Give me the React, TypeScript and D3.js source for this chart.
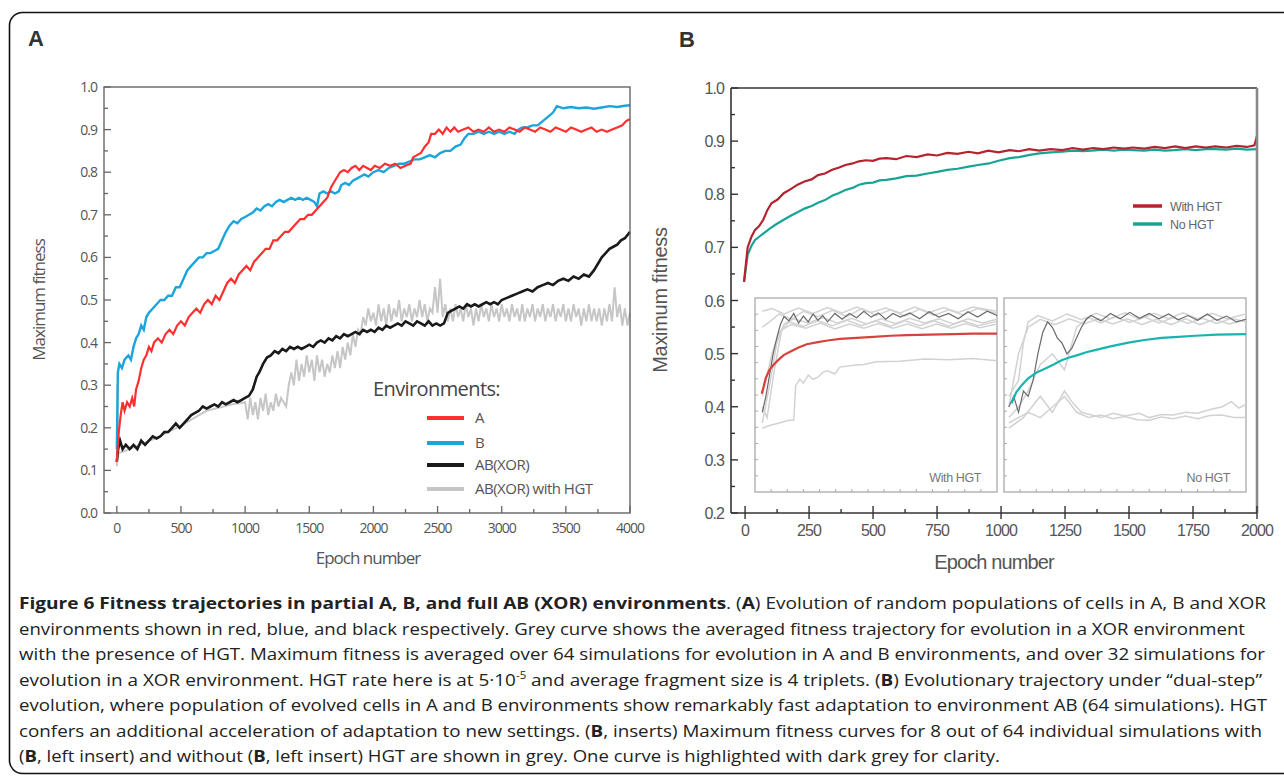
import React from "react"
import * as d3 from "d3"

type P = [number, number]

// ---------- panel A data (epoch, maximum fitness) ----------
const envRed: P[] = [
  [0, 0.12], [15, 0.19], [30, 0.23], [45, 0.26], [60, 0.24], [80, 0.26], [100, 0.25], [120, 0.27], [135, 0.25],
  [150, 0.29], [170, 0.31], [190, 0.34], [210, 0.36], [230, 0.37], [250, 0.39], [270, 0.38], [290, 0.4],
  [320, 0.41], [350, 0.4], [380, 0.42], [410, 0.43], [440, 0.42], [470, 0.44], [500, 0.45], [530, 0.44],
  [560, 0.46], [590, 0.47], [620, 0.48], [650, 0.47], [680, 0.49], [710, 0.5], [740, 0.49], [770, 0.51],
  [800, 0.5], [830, 0.52], [860, 0.54], [890, 0.55], [920, 0.54], [950, 0.56], [980, 0.57], [1010, 0.58],
  [1040, 0.57], [1070, 0.59], [1100, 0.6], [1130, 0.61], [1160, 0.62], [1190, 0.62], [1220, 0.64],
  [1250, 0.64], [1280, 0.65], [1310, 0.66], [1340, 0.66], [1370, 0.67], [1400, 0.68], [1430, 0.69],
  [1460, 0.69], [1490, 0.7], [1520, 0.7], [1550, 0.71], [1580, 0.72], [1610, 0.73], [1640, 0.74],
  [1670, 0.765], [1700, 0.78], [1740, 0.8], [1770, 0.805], [1800, 0.8], [1830, 0.81], [1860, 0.815],
  [1890, 0.805], [1920, 0.815], [1950, 0.81], [1980, 0.805], [2010, 0.815], [2050, 0.81], [2090, 0.82],
  [2130, 0.815], [2170, 0.82], [2210, 0.81], [2250, 0.815], [2290, 0.82], [2310, 0.835], [2340, 0.84],
  [2370, 0.845], [2400, 0.86], [2430, 0.87], [2450, 0.89], [2480, 0.89], [2510, 0.9], [2540, 0.89],
  [2570, 0.905], [2600, 0.895], [2630, 0.905], [2660, 0.895], [2700, 0.9], [2740, 0.905], [2780, 0.895],
  [2820, 0.9], [2860, 0.895], [2900, 0.905], [2940, 0.895], [2980, 0.9], [3020, 0.895], [3060, 0.905],
  [3100, 0.9], [3140, 0.895], [3180, 0.905], [3220, 0.9], [3260, 0.895], [3300, 0.905], [3340, 0.9],
  [3380, 0.895], [3420, 0.905], [3460, 0.9], [3500, 0.895], [3540, 0.905], [3580, 0.9], [3620, 0.895],
  [3660, 0.9], [3700, 0.905], [3740, 0.895], [3780, 0.9], [3820, 0.895], [3860, 0.9], [3900, 0.905],
  [3940, 0.91], [3970, 0.92], [4000, 0.925],
]

const envBlue: P[] = [
  [0, 0.15], [8, 0.33], [20, 0.35], [40, 0.34], [60, 0.36], [90, 0.37], [110, 0.36], [130, 0.39], [150, 0.41],
  [170, 0.42], [190, 0.44], [210, 0.43], [230, 0.46], [250, 0.47], [280, 0.48], [310, 0.49], [340, 0.5],
  [370, 0.5], [400, 0.51], [430, 0.51], [460, 0.53], [490, 0.53], [520, 0.55], [550, 0.57], [580, 0.58],
  [610, 0.59], [640, 0.6], [670, 0.6], [700, 0.61], [730, 0.61], [760, 0.615], [790, 0.62], [820, 0.64],
  [850, 0.66], [880, 0.675], [910, 0.685], [940, 0.68], [970, 0.69], [1000, 0.695], [1030, 0.7],
  [1060, 0.705], [1090, 0.715], [1120, 0.71], [1150, 0.72], [1180, 0.725], [1210, 0.72], [1240, 0.73],
  [1270, 0.735], [1300, 0.73], [1330, 0.735], [1360, 0.74], [1390, 0.735], [1420, 0.74], [1450, 0.735],
  [1480, 0.74], [1510, 0.735], [1540, 0.73], [1560, 0.72], [1580, 0.75], [1610, 0.755], [1640, 0.75],
  [1670, 0.755], [1700, 0.75], [1730, 0.755], [1750, 0.77], [1780, 0.775], [1810, 0.77], [1840, 0.78],
  [1870, 0.785], [1900, 0.79], [1930, 0.795], [1960, 0.79], [2000, 0.8], [2040, 0.805], [2080, 0.8],
  [2120, 0.81], [2160, 0.815], [2200, 0.82], [2240, 0.82], [2280, 0.825], [2320, 0.83], [2360, 0.83],
  [2400, 0.835], [2440, 0.84], [2480, 0.835], [2520, 0.845], [2560, 0.85], [2600, 0.85], [2640, 0.86],
  [2680, 0.865], [2710, 0.88], [2740, 0.89], [2780, 0.89], [2820, 0.895], [2860, 0.89], [2900, 0.895],
  [2940, 0.89], [2980, 0.895], [3020, 0.89], [3060, 0.895], [3100, 0.89], [3130, 0.9], [3160, 0.905],
  [3200, 0.905], [3240, 0.91], [3280, 0.91], [3320, 0.92], [3360, 0.93], [3400, 0.94], [3430, 0.955],
  [3480, 0.95], [3540, 0.953], [3600, 0.95], [3660, 0.952], [3720, 0.949], [3780, 0.952], [3840, 0.955],
  [3900, 0.953], [3960, 0.956], [4000, 0.957],
]

const envXor: P[] = [
  [0, 0.12], [10, 0.15], [25, 0.17], [45, 0.15], [70, 0.16], [100, 0.15], [130, 0.16], [160, 0.15],
  [190, 0.17], [220, 0.16], [250, 0.17], [280, 0.18], [310, 0.175], [340, 0.18], [370, 0.19], [400, 0.19],
  [430, 0.2], [460, 0.21], [490, 0.2], [520, 0.21], [550, 0.22], [580, 0.23], [610, 0.235], [640, 0.24],
  [670, 0.25], [700, 0.245], [730, 0.25], [760, 0.255], [790, 0.25], [820, 0.26], [850, 0.255], [880, 0.26],
  [910, 0.265], [940, 0.26], [970, 0.265], [1000, 0.27], [1030, 0.275], [1060, 0.29], [1090, 0.32],
  [1110, 0.33], [1140, 0.35], [1170, 0.365], [1200, 0.37], [1230, 0.38], [1260, 0.375], [1290, 0.385],
  [1320, 0.38], [1350, 0.39], [1380, 0.385], [1410, 0.39], [1440, 0.385], [1470, 0.39], [1500, 0.395],
  [1530, 0.39], [1560, 0.4], [1590, 0.405], [1620, 0.4], [1650, 0.41], [1680, 0.405], [1710, 0.415],
  [1740, 0.41], [1770, 0.42], [1800, 0.415], [1830, 0.42], [1860, 0.425], [1890, 0.42], [1920, 0.43],
  [1950, 0.425], [1980, 0.43], [2010, 0.425], [2040, 0.435], [2070, 0.43], [2100, 0.44], [2130, 0.435],
  [2160, 0.44], [2190, 0.445], [2220, 0.44], [2250, 0.45], [2280, 0.445], [2310, 0.44], [2340, 0.45],
  [2370, 0.445], [2400, 0.44], [2430, 0.45], [2460, 0.44], [2490, 0.445], [2520, 0.44], [2550, 0.445],
  [2580, 0.47], [2610, 0.475], [2640, 0.48], [2670, 0.485], [2700, 0.48], [2730, 0.49], [2760, 0.485],
  [2790, 0.49], [2820, 0.485], [2850, 0.49], [2880, 0.495], [2910, 0.49], [2940, 0.495], [2970, 0.49],
  [3000, 0.5], [3040, 0.505], [3080, 0.51], [3120, 0.515], [3160, 0.52], [3200, 0.525], [3240, 0.52],
  [3280, 0.53], [3320, 0.535], [3360, 0.54], [3400, 0.535], [3440, 0.545], [3480, 0.55], [3520, 0.545],
  [3560, 0.555], [3600, 0.55], [3640, 0.56], [3680, 0.555], [3720, 0.57], [3750, 0.585], [3780, 0.6],
  [3810, 0.61], [3840, 0.62], [3870, 0.625], [3900, 0.63], [3930, 0.64], [3960, 0.645], [4000, 0.66],
]

const envXorHgt: P[] = [
  [0, 0.11], [5, 0.3], [10, 0.14], [100, 0.15], [300, 0.175], [500, 0.205], [700, 0.24], [900, 0.255],
  [1000, 0.26], [1020, 0.22], [1040, 0.27], [1060, 0.23], [1080, 0.26], [1100, 0.22], [1120, 0.27],
  [1140, 0.24], [1160, 0.28], [1180, 0.23], [1200, 0.26], [1220, 0.24], [1240, 0.28], [1260, 0.25],
  [1280, 0.27], [1300, 0.26], [1320, 0.25], [1340, 0.3], [1360, 0.33], [1380, 0.3], [1400, 0.36],
  [1420, 0.31], [1440, 0.35], [1460, 0.32], [1480, 0.37], [1500, 0.33], [1520, 0.36], [1540, 0.31],
  [1560, 0.37], [1580, 0.33], [1600, 0.36], [1620, 0.32], [1640, 0.35], [1660, 0.33], [1680, 0.37],
  [1700, 0.34], [1720, 0.38], [1740, 0.34], [1760, 0.39], [1780, 0.36], [1800, 0.4], [1820, 0.37],
  [1840, 0.42], [1860, 0.39], [1880, 0.43], [1900, 0.42], [1920, 0.46], [1940, 0.44], [1960, 0.48],
  [1980, 0.45], [2000, 0.47], [2020, 0.44], [2040, 0.49], [2060, 0.45], [2080, 0.48], [2100, 0.44],
  [2120, 0.49], [2140, 0.45], [2160, 0.48], [2180, 0.46], [2200, 0.5], [2220, 0.45], [2240, 0.48],
  [2260, 0.46], [2280, 0.49], [2300, 0.45], [2320, 0.48], [2340, 0.46], [2360, 0.5], [2380, 0.46],
  [2400, 0.49], [2420, 0.45], [2440, 0.48], [2460, 0.47], [2480, 0.53], [2500, 0.47], [2520, 0.55],
  [2540, 0.46], [2560, 0.49], [2580, 0.45], [2600, 0.48], [2620, 0.45], [2640, 0.49], [2660, 0.46],
  [2680, 0.48], [2700, 0.45], [2720, 0.49], [2740, 0.46], [2760, 0.48], [2780, 0.44], [2800, 0.48],
  [2820, 0.45], [2840, 0.49], [2860, 0.46], [2880, 0.48], [2900, 0.45], [2920, 0.49], [2940, 0.46],
  [2960, 0.48], [2980, 0.45], [3000, 0.49], [3020, 0.46], [3040, 0.48], [3060, 0.45], [3080, 0.49],
  [3100, 0.46], [3120, 0.48], [3140, 0.45], [3160, 0.49], [3180, 0.45], [3200, 0.48], [3220, 0.46],
  [3240, 0.49], [3260, 0.45], [3280, 0.48], [3300, 0.46], [3320, 0.49], [3340, 0.45], [3360, 0.48],
  [3380, 0.46], [3400, 0.49], [3420, 0.45], [3440, 0.48], [3460, 0.46], [3480, 0.49], [3500, 0.45],
  [3520, 0.48], [3540, 0.45], [3560, 0.49], [3580, 0.46], [3600, 0.48], [3620, 0.44], [3640, 0.48],
  [3660, 0.45], [3680, 0.49], [3700, 0.45], [3720, 0.48], [3740, 0.45], [3760, 0.48], [3780, 0.44],
  [3800, 0.48], [3820, 0.45], [3840, 0.49], [3860, 0.45], [3880, 0.53], [3900, 0.46], [3920, 0.49],
  [3940, 0.44], [3960, 0.48], [3980, 0.44], [4000, 0.47],
]

const legendA = ["A", "B", "AB(XOR)", "AB(XOR) with HGT"]
const xTicksA = [0, 500, 1000, 1500, 2000, 2500, 3000, 3500, 4000]
const yTicksA = [0, 0.1, 0.2, 0.3, 0.4, 0.5, 0.6, 0.7, 0.8, 0.9, 1.0]

// ---------- panel B data ----------
const withHgt: P[] = [
  [-4, 0.635], [10, 0.7], [25, 0.72], [39, 0.733], [55, 0.74], [71, 0.752], [87, 0.77], [103, 0.783],
  [127, 0.79], [151, 0.802], [180, 0.81], [205, 0.818], [232, 0.824], [260, 0.828], [285, 0.836],
  [312, 0.839], [340, 0.846], [365, 0.85], [392, 0.855], [420, 0.858], [445, 0.862], [472, 0.864],
  [500, 0.863], [525, 0.867], [552, 0.868], [590, 0.866], [630, 0.872], [670, 0.87], [713, 0.875],
  [750, 0.873], [790, 0.878], [830, 0.876], [873, 0.88], [910, 0.877], [950, 0.882], [990, 0.879],
  [1034, 0.883], [1070, 0.881], [1110, 0.885], [1150, 0.882], [1194, 0.885], [1240, 0.883],
  [1280, 0.887], [1320, 0.884], [1360, 0.887], [1400, 0.885], [1440, 0.888], [1480, 0.886],
  [1515, 0.888], [1560, 0.886], [1600, 0.889], [1640, 0.887], [1680, 0.89], [1720, 0.887], [1760, 0.89],
  [1800, 0.888], [1836, 0.89], [1880, 0.888], [1920, 0.891], [1960, 0.889], [1990, 0.892], [2000, 0.91],
]

const noHgt: P[] = [
  [-4, 0.635], [10, 0.686], [25, 0.703], [39, 0.714], [55, 0.72], [71, 0.726], [95, 0.735], [120, 0.743],
  [151, 0.752], [180, 0.76], [205, 0.766], [232, 0.773], [260, 0.778], [285, 0.784], [312, 0.789],
  [340, 0.797], [365, 0.802], [392, 0.808], [420, 0.812], [445, 0.818], [472, 0.821], [500, 0.822],
  [525, 0.826], [552, 0.827], [590, 0.83], [630, 0.834], [670, 0.835], [713, 0.839], [750, 0.842],
  [790, 0.846], [830, 0.848], [873, 0.852], [910, 0.855], [953, 0.858], [990, 0.863], [1034, 0.868],
  [1070, 0.87], [1113, 0.874], [1150, 0.877], [1194, 0.879], [1240, 0.88], [1280, 0.882],
  [1320, 0.881], [1354, 0.882], [1400, 0.884], [1440, 0.882], [1480, 0.884], [1515, 0.883],
  [1560, 0.882], [1600, 0.884], [1640, 0.882], [1675, 0.883], [1720, 0.885], [1760, 0.883],
  [1800, 0.885], [1836, 0.885], [1880, 0.884], [1920, 0.886], [1960, 0.884], [2000, 0.885],
]

const legendB = ["With HGT", "No HGT"]
const xTicksB = [0, 250, 500, 750, 1000, 1250, 1500, 1750, 2000]
const yTicksB = [0.2, 0.3, 0.4, 0.5, 0.6, 0.7, 0.8, 0.9, 1.0]

// ---------- inserts (inset x 0..1000, fitness on panel B scale) ----------
const insetHgtMean: P[] = [
  [28, 0.425], [45, 0.455], [60, 0.47], [76, 0.479], [100, 0.49], [120, 0.498], [145, 0.504],
  [180, 0.512], [214, 0.518], [260, 0.522], [300, 0.525], [352, 0.528], [420, 0.53], [490, 0.532],
  [560, 0.534], [628, 0.535], [720, 0.536], [820, 0.537], [900, 0.538], [1000, 0.538],
]
const insetHgtDark: P[] = [
  [30, 0.39], [45, 0.42], [60, 0.46], [75, 0.5], [90, 0.53], [105, 0.555], [120, 0.57], [140, 0.562],
  [160, 0.576], [180, 0.558], [200, 0.571], [220, 0.56], [240, 0.575], [260, 0.563], [280, 0.572],
  [300, 0.56], [330, 0.576], [360, 0.565], [390, 0.576], [420, 0.568], [450, 0.58], [480, 0.569],
  [510, 0.577], [540, 0.565], [570, 0.576], [600, 0.569], [640, 0.577], [680, 0.566], [720, 0.579],
  [760, 0.569], [800, 0.576], [840, 0.566], [880, 0.579], [920, 0.569], [960, 0.58], [1000, 0.572],
]
const insetHgtGrey: P[][] = [
  [[30, 0.55], [60, 0.56], [100, 0.575], [150, 0.565], [200, 0.58], [260, 0.57], [320, 0.582],
    [380, 0.57], [440, 0.585], [500, 0.572], [560, 0.583], [620, 0.571], [680, 0.584], [740, 0.572],
    [800, 0.583], [860, 0.573], [920, 0.585], [1000, 0.576]],
  [[30, 0.37], [60, 0.44], [90, 0.52], [120, 0.556], [160, 0.566], [220, 0.558], [280, 0.568],
    [340, 0.558], [400, 0.567], [460, 0.556], [520, 0.566], [580, 0.557], [640, 0.567], [700, 0.558],
    [760, 0.566], [820, 0.556], [880, 0.566], [940, 0.558], [1000, 0.565]],
  [[30, 0.4], [50, 0.38], [80, 0.47], [110, 0.545], [150, 0.555], [210, 0.548], [270, 0.558],
    [330, 0.547], [390, 0.556], [450, 0.548], [510, 0.557], [570, 0.548], [630, 0.556], [690, 0.547],
    [750, 0.556], [810, 0.548], [870, 0.557], [930, 0.549], [1000, 0.556]],
  [[30, 0.36], [60, 0.365], [100, 0.37], [140, 0.375], [160, 0.375], [168, 0.44], [185, 0.452],
    [200, 0.445], [220, 0.46], [240, 0.452], [260, 0.456], [280, 0.465], [300, 0.468], [330, 0.462],
    [350, 0.475], [400, 0.478], [450, 0.48], [500, 0.485], [600, 0.486], [700, 0.49], [800, 0.489],
    [900, 0.491], [1000, 0.487]],
  [[30, 0.58], [70, 0.585], [120, 0.575], [180, 0.586], [240, 0.576], [300, 0.587], [360, 0.577],
    [420, 0.588], [480, 0.578], [540, 0.586], [600, 0.577], [660, 0.588], [720, 0.578], [780, 0.587],
    [840, 0.578], [900, 0.588], [1000, 0.58]],
  [[30, 0.42], [70, 0.5], [100, 0.54], [140, 0.56], [200, 0.552], [260, 0.562], [320, 0.553],
    [380, 0.563], [440, 0.553], [500, 0.562], [560, 0.552], [620, 0.562], [680, 0.553], [740, 0.562],
    [800, 0.552], [860, 0.562], [920, 0.553], [1000, 0.561]],
]

const insetNoMean: P[] = [
  [31, 0.407], [51, 0.428], [75, 0.442], [100, 0.454], [135, 0.465], [169, 0.472], [205, 0.48],
  [238, 0.488], [270, 0.493], [307, 0.498], [340, 0.503], [376, 0.507], [440, 0.514], [514, 0.521],
  [580, 0.526], [652, 0.53], [720, 0.532], [790, 0.534], [880, 0.536], [1000, 0.537],
]
const insetNoDark: P[] = [
  [20, 0.4], [40, 0.42], [60, 0.39], [80, 0.43], [100, 0.42], [120, 0.45], [140, 0.5], [160, 0.54],
  [180, 0.56], [200, 0.55], [220, 0.53], [240, 0.52], [260, 0.5], [280, 0.51], [300, 0.53], [320, 0.55],
  [340, 0.565], [360, 0.572], [400, 0.562], [440, 0.576], [480, 0.566], [520, 0.578], [560, 0.567],
  [600, 0.576], [640, 0.566], [680, 0.575], [720, 0.564], [760, 0.572], [800, 0.563], [840, 0.575],
  [880, 0.563], [920, 0.571], [960, 0.56], [1000, 0.565],
]
const insetNoGrey: P[][] = [
  [[20, 0.42], [60, 0.45], [80, 0.52], [100, 0.56], [140, 0.572], [200, 0.562], [260, 0.575],
    [320, 0.564], [380, 0.576], [440, 0.566], [500, 0.577], [560, 0.565], [620, 0.576], [680, 0.566],
    [740, 0.577], [800, 0.566], [860, 0.576], [920, 0.566], [1000, 0.575]],
  [[20, 0.38], [60, 0.4], [100, 0.43], [150, 0.48], [200, 0.5], [250, 0.47], [300, 0.55], [350, 0.568],
    [400, 0.558], [460, 0.57], [520, 0.559], [580, 0.569], [640, 0.558], [700, 0.568], [760, 0.557],
    [820, 0.567], [880, 0.557], [940, 0.567], [1000, 0.56]],
  [[20, 0.37], [60, 0.38], [100, 0.39], [150, 0.38], [200, 0.4], [250, 0.42], [300, 0.39], [350, 0.38],
    [400, 0.385], [450, 0.378], [500, 0.382], [550, 0.376], [600, 0.375], [650, 0.381], [700, 0.378],
    [750, 0.383], [800, 0.378], [850, 0.384], [900, 0.385], [950, 0.38], [1000, 0.38]],
  [[20, 0.36], [80, 0.38], [150, 0.42], [200, 0.39], [250, 0.43], [280, 0.41], [320, 0.39],
    [400, 0.38], [450, 0.388], [500, 0.383], [560, 0.388], [600, 0.38], [650, 0.386], [700, 0.385],
    [750, 0.39], [800, 0.388], [860, 0.396], [900, 0.4], [940, 0.41], [970, 0.398], [1000, 0.405]],
  [[20, 0.4], [60, 0.5], [100, 0.55], [150, 0.565], [210, 0.555], [270, 0.566], [330, 0.556],
    [390, 0.566], [450, 0.556], [510, 0.566], [570, 0.555], [630, 0.565], [690, 0.555], [750, 0.566],
    [810, 0.555], [870, 0.565], [930, 0.556], [1000, 0.564]],
]

// ---------- caption ----------
type Seg = { t: string; b?: boolean; sup?: boolean }
const captionLines: Seg[][] = [
  [{ t: "Figure 6 Fitness trajectories in partial A, B, and full AB (XOR) environments", b: true },
    { t: ". (" }, { t: "A", b: true }, { t: ") Evolution of random populations of cells in A, B and XOR" }],
  [{ t: "environments shown in red, blue, and black respectively. Grey curve shows the averaged fitness trajectory for evolution in a XOR environment" }],
  [{ t: "with the presence of HGT. Maximum fitness is averaged over 64 simulations for evolution in A and B environments, and over 32 simulations for" }],
  [{ t: "evolution in a XOR environment. HGT rate here is at 5·10" }, { t: "-5", sup: true },
    { t: " and average fragment size is 4 triplets. (" }, { t: "B", b: true },
    { t: ") Evolutionary trajectory under \u201Cdual-step\u201D" }],
  [{ t: "evolution, where population of evolved cells in A and B environments show remarkably fast adaptation to environment AB (64 simulations). HGT" }],
  [{ t: "confers an additional acceleration of adaptation to new settings. (" }, { t: "B", b: true },
    { t: ", inserts) Maximum fitness curves for 8 out of 64 individual simulations with" }],
  [{ t: "(" }, { t: "B", b: true }, { t: ", left insert) and without (" }, { t: "B", b: true },
    { t: ", left insert) HGT are shown in grey. One curve is highlighted with dark grey for clarity." }],
]
const captionWidths = [1247, 1226, 1246, 1243, 1248, 1243, 981]

const W = 1284
const H = 776

const App = () => {
  const fmt = d3.format(".1f")

  // panel A
  const xA = d3.scaleLinear().domain([-100, 4000]).range([104, 630])
  const yA = d3.scaleLinear().domain([0, 1]).range([513, 87])
  const lineA = d3.line<P>().x(d => xA(d[0])).y(d => yA(d[1]))
  const minorXA = xTicksA.slice(0, -1).map(v => v + 250)
  const minorYA = yTicksA.slice(0, -1).map(v => v + 0.05)

  // panel B
  const xB = d3.scaleLinear().domain([-55, 2000]).range([731, 1257])
  const yB = d3.scaleLinear().domain([0.2, 1.0]).range([513, 88])
  const lineB = d3.line<P>().x(d => xB(d[0])).y(d => yB(d[1]))
  const minorXB = xTicksB.slice(0, -1).map(v => v + 125)
  const minorYB = yTicksB.slice(0, -1).map(v => v + 0.05)

  // inserts
  const insetY = d3.scaleLinear().domain([0.24, 0.605]).range([492, 298])
  const insets = [
    { x: d3.scaleLinear().domain([0, 1000]).range([755, 997]), mean: insetHgtMean, dark: insetHgtDark,
      grey: insetHgtGrey, color: "#d8423c", label: "With HGT" },
    { x: d3.scaleLinear().domain([0, 1000]).range([1004, 1246]), mean: insetNoMean, dark: insetNoDark,
      grey: insetNoGrey, color: "#18b4b0", label: "No HGT" },
  ]
  const insetTickY = d3.scaleLinear().domain([0, 12]).range([492, 298])
  const insetTickX = d3.scaleLinear().domain([0, 15])

  const colorsA = ["#ff2f2f", "#1ba5da", "#1a1a1a", "#c6c6c6"]
  const colorsB = ["#b5232e", "#17a497"]

  return (
    <svg width={W} height={H} style={{ position: "absolute", left: 0, top: 0, background: "#fff" }}
      fontFamily="'Open Sans', sans-serif">
      <rect x={9.5} y={12.5} width={1300} height={761} rx={13} fill="none" stroke="#111" strokeWidth={1.6} />

      {/* ---------------- panel A ---------------- */}
      <text x={28} y={46} fontSize={22} fontWeight={700} fontFamily="'Liberation Sans', Arial" fill="#333">A</text>
      <g>
        <path d={lineA(envXorHgt) || ""} fill="none" stroke={colorsA[3]} strokeWidth={2} />
        <path d={lineA(envXor) || ""} fill="none" stroke={colorsA[2]} strokeWidth={2.6} />
        <path d={lineA(envBlue) || ""} fill="none" stroke={colorsA[1]} strokeWidth={2.4} />
        <path d={lineA(envRed) || ""} fill="none" stroke={colorsA[0]} strokeWidth={2.2} />
      </g>
      <rect x={104} y={87} width={526} height={426} fill="none" stroke="#666" strokeWidth={1.4} />
      <g stroke="#666" strokeWidth={1.3}>
        {xTicksA.map(v => <line key={"xa" + v} x1={xA(v)} x2={xA(v)} y1={513} y2={506} />)}
        {minorXA.map(v => <line key={"xam" + v} x1={xA(v)} x2={xA(v)} y1={513} y2={509} />)}
        {yTicksA.map(v => <line key={"ya" + v} x1={104} x2={111} y1={yA(v)} y2={yA(v)} />)}
        {minorYA.map(v => <line key={"yam" + v} x1={104} x2={108} y1={yA(v)} y2={yA(v)} />)}
      </g>
      <g fontSize={14} fill="#555" letterSpacing={-1}>
        {xTicksA.map(v => <text key={"xl" + v} x={xA(v)} y={533} textAnchor="middle">{v}</text>)}
        {yTicksA.map(v => <text key={"yl" + v} x={97} y={yA(v) + 5} textAnchor="end">{fmt(v)}</text>)}
      </g>
      <text x={368} y={564} textAnchor="middle" fontSize={17} fill="#555" letterSpacing={-1}>Epoch number</text>
      <text transform="translate(45,300) rotate(-90)" textAnchor="middle" fontSize={17} fill="#555"
        letterSpacing={-1}>Maximum fitness</text>
      <text x={373} y={396} fontSize={20} fill="#444" letterSpacing={-0.6}>Environments:</text>
      {legendA.map((l, i) => {
        const ly = [418, 443, 465, 489][i]
        return (
          <g key={l}>
            <line x1={427} x2={464} y1={ly} y2={ly} stroke={colorsA[i]} strokeWidth={4} />
            <text x={475} y={ly + 5} fontSize={15} fill="#555" letterSpacing={-0.5}>{l}</text>
          </g>
        )
      })}

      {/* ---------------- panel B ---------------- */}
      <text x={679} y={47} fontSize={22} fontWeight={700} fontFamily="'Liberation Sans', Arial" fill="#333">B</text>
      <path d={lineB(noHgt) || ""} fill="none" stroke={colorsB[1]} strokeWidth={2.2} />
      <path d={lineB(withHgt) || ""} fill="none" stroke={colorsB[0]} strokeWidth={2.2} />
      <line x1={731} x2={1257} y1={88} y2={88} stroke="#666" strokeWidth={2} />
      <line x1={1257} x2={1257} y1={88} y2={513} stroke="#888" strokeWidth={2.6} />
      <line x1={731} x2={731} y1={88} y2={513} stroke="#333" strokeWidth={1.6} />
      <line x1={731} x2={1257} y1={513} y2={513} stroke="#333" strokeWidth={1.6} />
      <g stroke="#333" strokeWidth={1.4}>
        {xTicksB.map(v => <line key={"xb" + v} x1={xB(v)} x2={xB(v)} y1={519} y2={506} />)}
        {minorXB.map(v => <line key={"xbm" + v} x1={xB(v)} x2={xB(v)} y1={513} y2={509} />)}
        {yTicksB.map(v => <line key={"yb" + v} x1={731} x2={738} y1={yB(v)} y2={yB(v)} />)}
        {minorYB.map(v => <line key={"ybm" + v} x1={731} x2={735} y1={yB(v)} y2={yB(v)} />)}
      </g>
      <g fontSize={16} fill="#555" letterSpacing={-0.9} fontFamily="'Liberation Sans', Arial">
        {xTicksB.map(v => <text key={"xlb" + v} x={xB(v)} y={536} textAnchor="middle">{v}</text>)}
        {yTicksB.map(v => <text key={"ylb" + v} x={724} y={yB(v) + 6} textAnchor="end">{fmt(v)}</text>)}
      </g>
      <text x={994} y={569} textAnchor="middle" fontSize={20} fill="#555" letterSpacing={-0.9}
        fontFamily="'Liberation Sans', Arial">Epoch number</text>
      <text transform="translate(667,300) rotate(-90)" textAnchor="middle" fontSize={20} fill="#555"
        letterSpacing={-0.3} fontFamily="'Liberation Sans', Arial">Maximum fitness</text>
      {legendB.map((l, i) => {
        const ly = [206, 224][i]
        return (
          <g key={l}>
            <line x1={1133} x2={1162} y1={ly} y2={ly} stroke={colorsB[i]} strokeWidth={3.5} />
            <text x={1170} y={ly + 4.5} fontSize={12.5} fill="#666" letterSpacing={-0.4}
              fontFamily="'Liberation Sans', Arial">{l}</text>
          </g>
        )
      })}

      {insets.map(ins => {
        const [x0, x1] = ins.x.range()
        const tx = insetTickX.copy().range([x0, x1])
        const ln = d3.line<P>().x(d => ins.x(d[0])).y(d => insetY(d[1]))
        return (
          <g key={ins.label}>
            <rect x={x0} y={298} width={x1 - x0} height={194} fill="#fff" stroke="#aaa" strokeWidth={1.3} />
            <g stroke="#aaa" strokeWidth={1}>
              {d3.range(1, 12).map(t => <line key={"it" + t} x1={x0} x2={x0 + 3} y1={insetTickY(t)} y2={insetTickY(t)} />)}
              {d3.range(1, 15).map(t => <line key={"ix" + t} x1={tx(t)} x2={tx(t)} y1={492} y2={489} />)}
            </g>
            {ins.grey.map((g, i) => <path key={i} d={ln(g) || ""} fill="none" stroke="#d2d2d2" strokeWidth={1.5} />)}
            <path d={ln(ins.dark) || ""} fill="none" stroke="#6a6a6a" strokeWidth={1.2} />
            <path d={ln(ins.mean) || ""} fill="none" stroke={ins.color} strokeWidth={2.2} />
            <text x={x1 - 16} y={482} textAnchor="end" fontSize={12.5} fill="#777" letterSpacing={-0.4}
              fontFamily="'Liberation Sans', Arial">{ins.label}</text>
          </g>
        )
      })}

      {/* ---------------- caption ---------------- */}
      <g fontSize={16.5} fill="#222">
        {captionLines.map((segs, i) => (
          <text key={i} x={19} y={609 + i * 25.5} textLength={captionWidths[i]} lengthAdjust="spacingAndGlyphs">
            {segs.map((s, j) => (
              <tspan key={j} fontWeight={s.b ? 700 : 400} fontSize={s.sup ? 10 : undefined}
                baselineShift={s.sup ? "super" : undefined}>{s.t}</tspan>
            ))}
          </text>
        ))}
      </g>
    </svg>
  )
}

export default App
